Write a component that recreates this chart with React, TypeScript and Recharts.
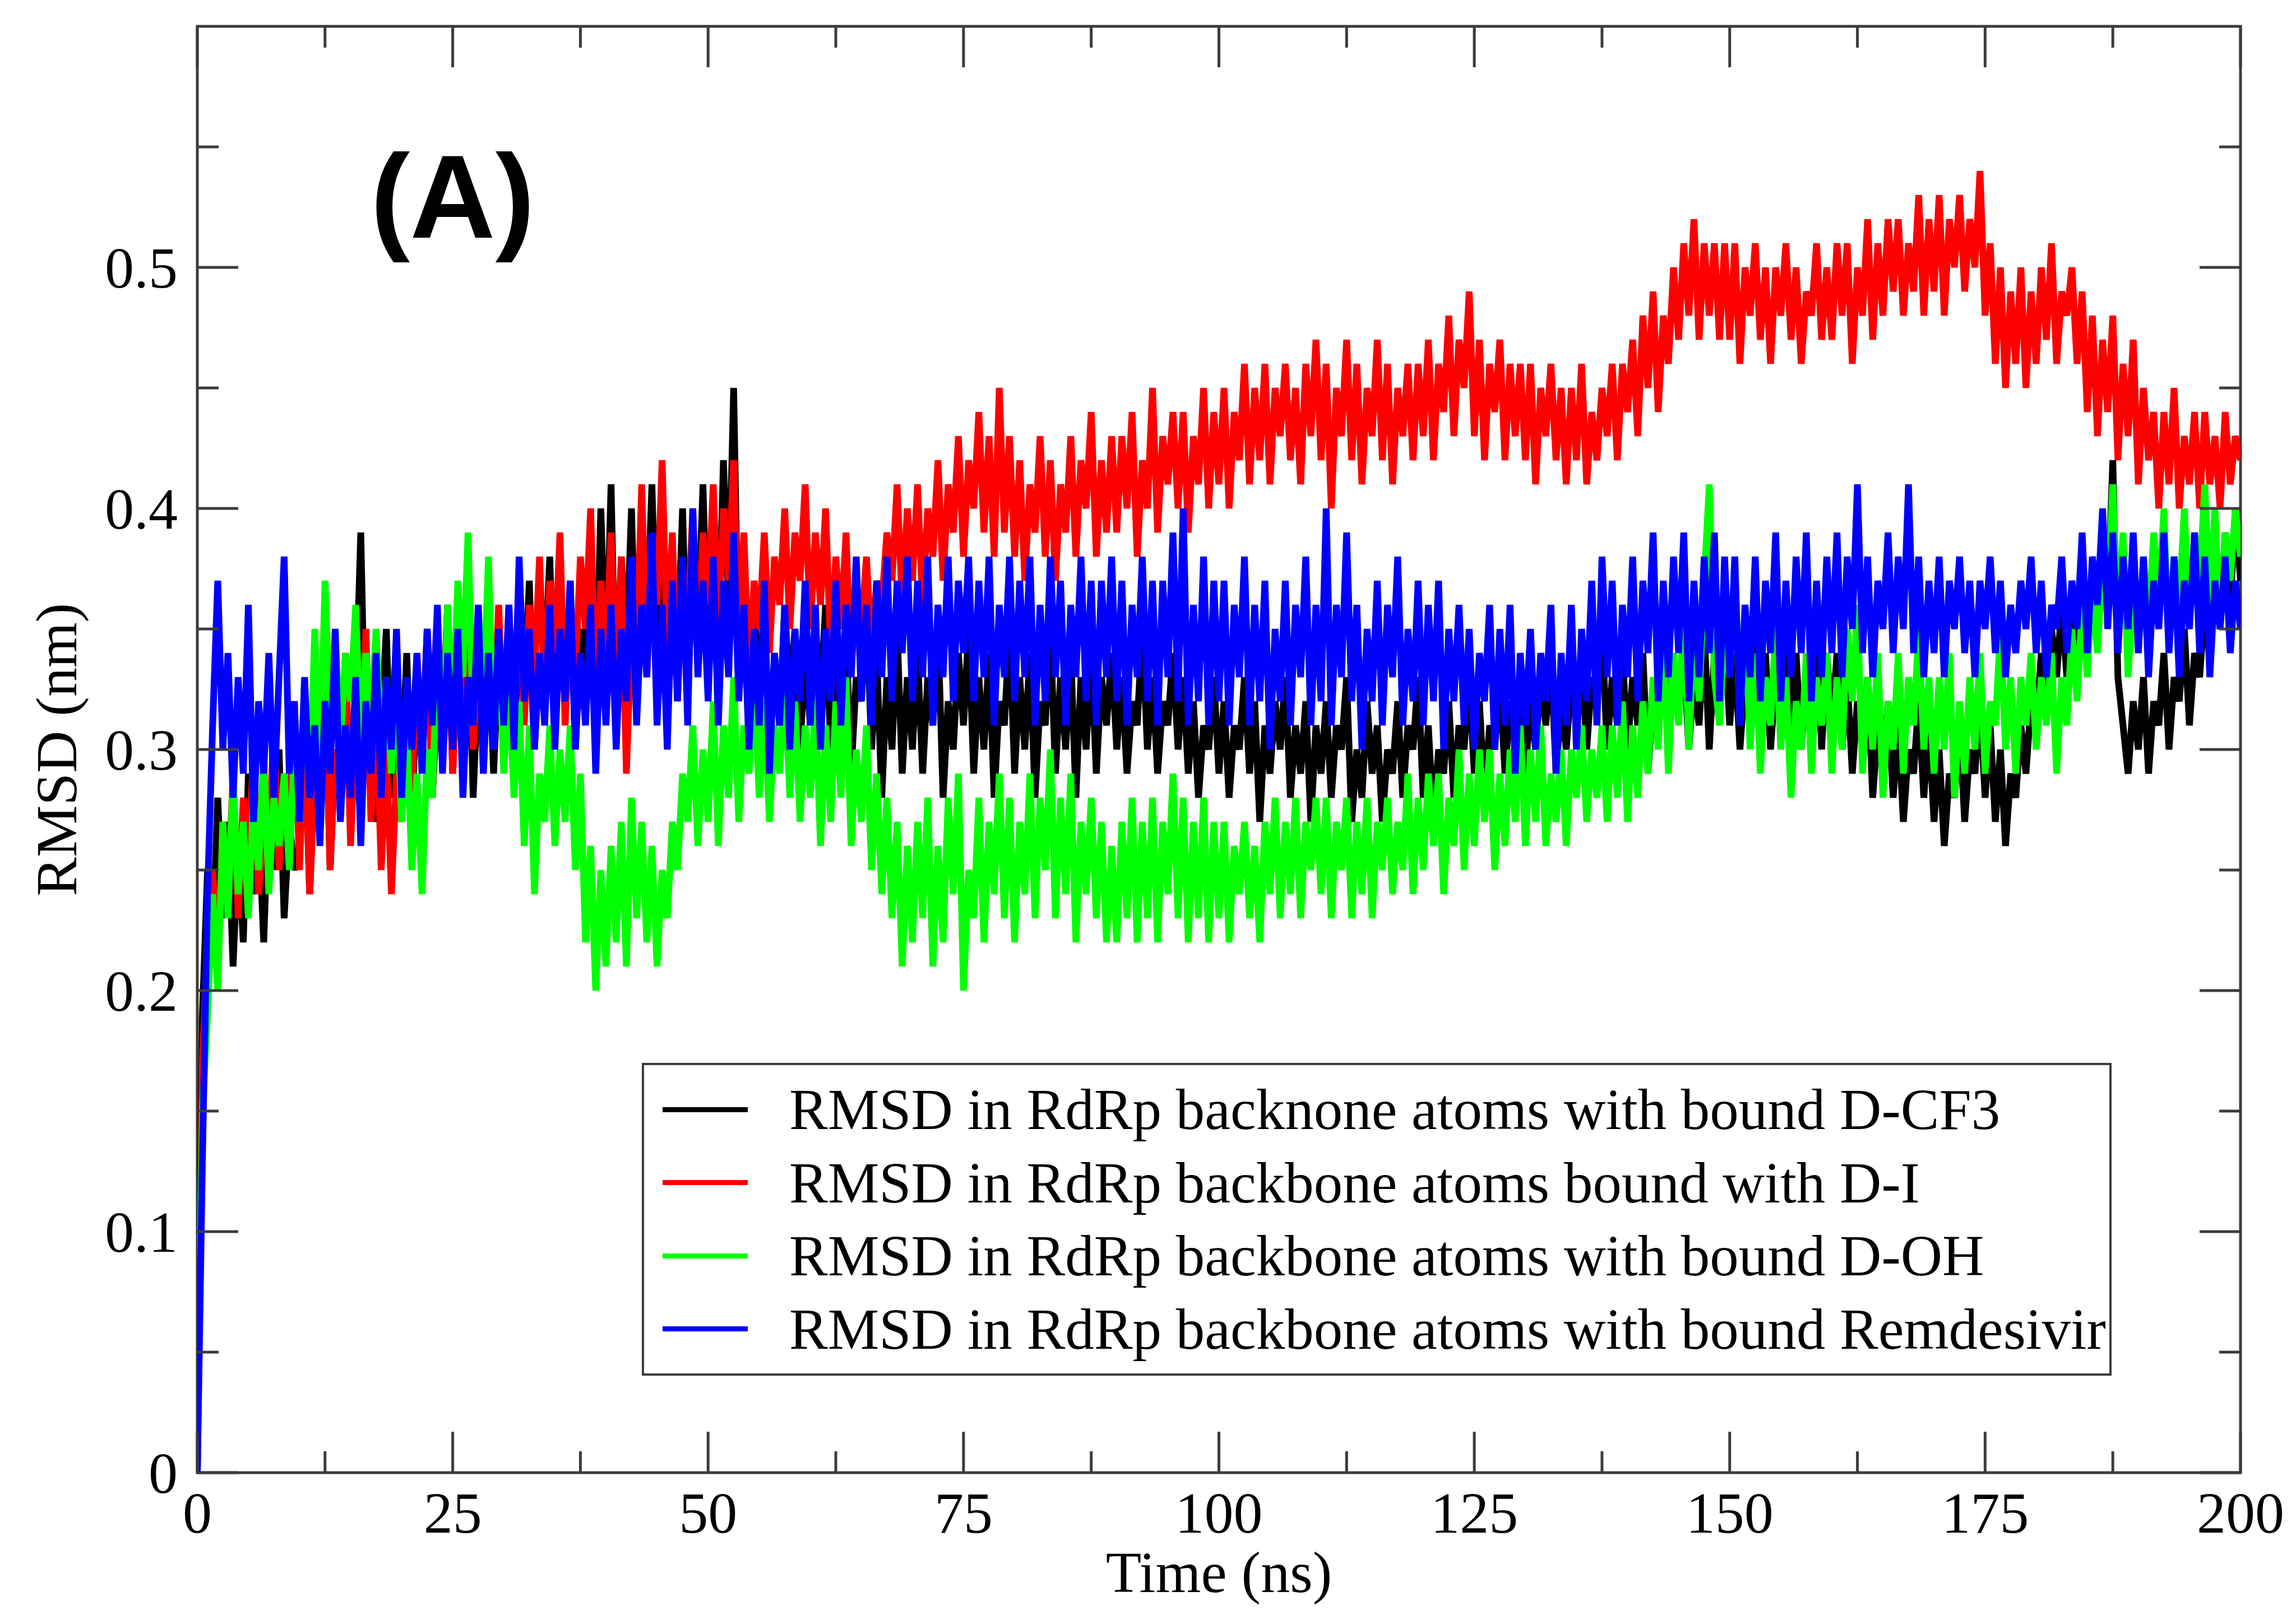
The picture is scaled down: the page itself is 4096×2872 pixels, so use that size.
import React from 'react'
import { LineChart, Line, XAxis, YAxis, Legend, ReferenceArea, Customized } from 'recharts'

// RMSD (nm), one frame every 0.5 ns from 0 to 200 ns
const STEP_NS = 0.5

const cf3 = [
  0, .19, .25, .22, .28, .23, .27, .21, .26, .22, .29, .24, .27, .22, .28, .25, .30, .23, .27, .25,
  .26, .31, .24, .29, .27, .33, .25, .30, .28, .34, .27, .32, .39, .29, .33, .27, .31, .35, .28, .32,
  .29, .34, .27, .33, .30, .35, .28, .32, .31, .36, .29, .34, .30, .37, .28, .33, .31, .35, .29, .34,
  .31, .36, .30, .35, .32, .37, .30, .34, .33, .38, .31, .36, .32, .37, .30, .35, .33, .39, .32, .40,
  .33, .41, .31, .38, .34, .40, .32, .37, .35, .41, .33, .39, .31, .36, .34, .40, .32, .38, .35, .41,
  .33, .39, .34, .42, .36, .45, .33, .38, .31, .36, .32, .35, .30, .34, .31, .36, .32, .35, .30, .34,
  .31, .35, .32, .36, .30, .34, .31, .35, .29, .33, .32, .36, .30, .34, .28, .33, .30, .35, .29, .33,
  .30, .34, .29, .33, .31, .35, .28, .32, .30, .34, .31, .35, .29, .33, .30, .34, .28, .32, .31, .35,
  .29, .33, .30, .34, .28, .32, .31, .35, .29, .33, .30, .34, .28, .33, .30, .34, .29, .33, .31, .34,
  .30, .33, .29, .32, .31, .35, .30, .33, .29, .32, .31, .34, .30, .33, .29, .32, .28, .31, .30, .33,
  .29, .32, .28, .31, .30, .33, .29, .32, .27, .31, .29, .32, .30, .33, .28, .31, .29, .32, .27, .31,
  .29, .32, .28, .31, .30, .33, .27, .30, .28, .32, .29, .31, .27, .30, .29, .32, .28, .31, .30, .33,
  .28, .31, .27, .30, .29, .32, .28, .31, .30, .33, .29, .32, .28, .31, .30, .33, .29, .32, .31, .33,
  .29, .32, .30, .33, .31, .34, .29, .32, .30, .33, .31, .34, .30, .33, .32, .35, .30, .33, .31, .34,
  .30, .33, .31, .34, .29, .32, .31, .35, .30, .33, .32, .34, .30, .33, .31, .35, .30, .34, .32, .35,
  .31, .34, .30, .33, .32, .35, .31, .34, .30, .33, .32, .35, .31, .34, .30, .33, .32, .35, .30, .34,
  .31, .34, .30, .33, .29, .32, .30, .33, .28, .31, .29, .32, .28, .31, .27, .30, .29, .32, .28, .31,
  .27, .30, .26, .29, .28, .31, .27, .30, .29, .32, .28, .31, .27, .30, .26, .29, .28, .31, .29, .32,
  .31, .34, .32, .35, .33, .36, .33, .36, .34, .37, .34, .37, .35, .38, .36, .42, .33, .31, .29, .32,
  .30, .33, .29, .32, .31, .34, .30, .33, .32, .35, .31, .34, .33, .36, .34, .37, .35, .39, .36, .40,
  .37,
]

const dI = [
  0, .17, .22, .25, .21, .27, .24, .29, .23, .28, .25, .30, .24, .27, .26, .31, .25, .29, .27, .32,
  .25, .31, .24, .29, .27, .33, .25, .30, .28, .34, .26, .31, .29, .35, .27, .32, .25, .30, .24, .29,
  .27, .32, .28, .34, .29, .35, .28, .33, .30, .36, .29, .34, .31, .37, .30, .35, .29, .34, .31, .36,
  .30, .35, .32, .37, .31, .36, .33, .38, .32, .37, .34, .39, .31, .36, .33, .38, .35, .40, .32, .37,
  .34, .39, .33, .38, .29, .35, .34, .41, .33, .38, .36, .42, .34, .39, .32, .37, .35, .40, .34, .39,
  .36, .41, .35, .40, .37, .42, .34, .39, .33, .37, .35, .39, .34, .38, .36, .40, .35, .39, .37, .41,
  .35, .39, .36, .40, .34, .38, .35, .39, .33, .37, .35, .38, .34, .37, .36, .39, .37, .41, .36, .40,
  .37, .41, .36, .40, .38, .42, .37, .41, .39, .43, .38, .42, .40, .44, .39, .43, .38, .45, .39, .43,
  .38, .42, .37, .41, .39, .43, .38, .42, .37, .41, .39, .43, .38, .42, .40, .44, .38, .42, .39, .43,
  .39, .43, .40, .44, .38, .42, .40, .45, .39, .43, .41, .44, .40, .44, .39, .43, .41, .45, .40, .44,
  .41, .45, .40, .44, .42, .46, .41, .45, .42, .46, .41, .45, .43, .46, .42, .45, .41, .46, .43, .47,
  .42, .46, .40, .45, .43, .47, .42, .46, .41, .45, .43, .47, .42, .46, .41, .45, .43, .46, .42, .46,
  .43, .47, .42, .46, .44, .48, .43, .47, .45, .49, .43, .47, .42, .46, .44, .47, .42, .46, .43, .46,
  .42, .46, .41, .45, .43, .46, .42, .45, .41, .45, .42, .46, .41, .44, .42, .45, .43, .46, .42, .46,
  .44, .47, .43, .48, .45, .49, .44, .48, .46, .50, .47, .51, .48, .52, .47, .51, .48, .51, .47, .51,
  .47, .51, .46, .50, .48, .51, .47, .50, .46, .50, .48, .51, .47, .50, .46, .49, .48, .51, .47, .50,
  .47, .51, .48, .51, .46, .50, .48, .52, .47, .51, .48, .52, .49, .52, .48, .51, .49, .53, .48, .52,
  .49, .53, .48, .52, .50, .53, .49, .52, .50, .54, .48, .51, .46, .50, .45, .49, .46, .50, .45, .49,
  .46, .50, .47, .51, .46, .49, .48, .50, .46, .49, .44, .48, .43, .47, .44, .48, .42, .46, .43, .47,
  .41, .45, .42, .44, .40, .44, .41, .45, .40, .43, .41, .44, .40, .44, .41, .43, .40, .44, .41, .43,
  .42,
]

const dOH = [
  0, .15, .19, .24, .20, .27, .23, .29, .24, .27, .23, .28, .25, .30, .24, .28, .26, .29, .25, .30,
  .27, .33, .28, .35, .29, .37, .31, .35, .30, .34, .32, .36, .30, .34, .31, .35, .30, .33, .29, .33,
  .27, .31, .25, .29, .24, .30, .28, .34, .30, .36, .31, .37, .33, .39, .31, .36, .32, .38, .30, .35,
  .29, .33, .28, .32, .26, .31, .24, .29, .27, .31, .26, .30, .27, .31, .25, .29, .22, .26, .20, .25,
  .21, .26, .22, .27, .21, .28, .23, .27, .22, .26, .21, .25, .23, .27, .25, .29, .27, .31, .26, .30,
  .27, .32, .26, .31, .28, .33, .27, .31, .29, .33, .28, .32, .27, .31, .29, .33, .28, .32, .27, .31,
  .28, .32, .26, .31, .27, .32, .28, .33, .26, .30, .27, .31, .25, .29, .24, .28, .23, .27, .21, .26,
  .22, .27, .23, .28, .21, .26, .22, .28, .24, .29, .20, .25, .23, .28, .22, .27, .24, .29, .23, .28,
  .22, .27, .24, .29, .23, .28, .25, .30, .23, .28, .24, .29, .22, .27, .24, .28, .23, .27, .22, .26,
  .22, .27, .23, .28, .22, .27, .23, .28, .22, .27, .24, .29, .23, .28, .22, .27, .23, .28, .22, .27,
  .23, .27, .22, .26, .24, .27, .23, .26, .22, .27, .24, .28, .23, .27, .24, .28, .23, .27, .25, .28,
  .24, .28, .23, .27, .25, .28, .23, .27, .24, .28, .23, .27, .25, .28, .24, .27, .25, .29, .24, .28,
  .25, .29, .26, .29, .24, .28, .26, .30, .25, .29, .26, .30, .27, .30, .25, .29, .26, .30, .27, .31,
  .26, .30, .27, .31, .26, .29, .27, .30, .26, .30, .28, .31, .27, .30, .28, .31, .27, .31, .28, .32,
  .27, .31, .28, .32, .29, .33, .30, .35, .29, .34, .31, .36, .30, .35, .32, .37, .41, .33, .31, .35,
  .33, .38, .31, .36, .30, .34, .29, .33, .31, .35, .30, .33, .28, .32, .30, .34, .29, .33, .31, .34,
  .29, .33, .30, .35, .32, .36, .29, .33, .30, .34, .28, .32, .30, .34, .29, .33, .31, .35, .30, .33,
  .29, .33, .30, .34, .28, .32, .29, .33, .30, .34, .29, .32, .31, .35, .30, .33, .29, .33, .31, .34,
  .30, .33, .31, .34, .29, .33, .31, .35, .32, .36, .33, .37, .34, .38, .36, .41, .35, .39, .33, .37,
  .34, .38, .35, .39, .36, .40, .34, .38, .36, .40, .35, .39, .37, .41, .36, .40, .35, .39, .37, .40,
  .38,
]

const remdesivir = [
  0, .13, .24, .31, .37, .30, .34, .28, .33, .29, .36, .27, .32, .29, .34, .28, .33, .38, .29, .32,
  .27, .33, .28, .31, .26, .32, .29, .35, .27, .31, .28, .33, .26, .32, .29, .34, .28, .33, .30, .35,
  .28, .33, .30, .34, .29, .35, .31, .36, .29, .34, .30, .35, .28, .33, .31, .36, .29, .34, .30, .35,
  .31, .36, .30, .38, .32, .35, .30, .34, .31, .36, .30, .35, .32, .37, .30, .34, .31, .36, .29, .35,
  .31, .36, .30, .35, .32, .38, .31, .36, .33, .39, .31, .36, .30, .37, .32, .38, .31, .40, .33, .37,
  .32, .38, .31, .37, .33, .39, .32, .36, .30, .35, .31, .37, .29, .34, .31, .36, .30, .35, .32, .37,
  .31, .36, .30, .35, .32, .37, .31, .36, .33, .38, .32, .36, .31, .37, .33, .38, .32, .37, .34, .38,
  .32, .37, .33, .38, .31, .36, .33, .38, .32, .37, .34, .38, .32, .37, .33, .38, .31, .36, .33, .38,
  .32, .37, .33, .38, .31, .36, .32, .38, .33, .37, .31, .36, .33, .38, .32, .37, .31, .37, .33, .38,
  .32, .37, .31, .36, .33, .38, .32, .37, .31, .37, .33, .39, .32, .40, .31, .36, .32, .38, .31, .37,
  .32, .37, .31, .36, .33, .38, .31, .36, .32, .37, .30, .35, .32, .37, .31, .36, .33, .38, .31, .36,
  .32, .40, .31, .36, .33, .39, .32, .36, .30, .35, .32, .37, .31, .36, .33, .38, .31, .35, .32, .37,
  .31, .36, .32, .37, .30, .35, .32, .36, .31, .35, .30, .34, .32, .36, .30, .35, .31, .36, .29, .34,
  .31, .35, .30, .34, .32, .36, .29, .34, .31, .36, .30, .35, .32, .37, .31, .38, .33, .37, .31, .36,
  .33, .38, .32, .37, .34, .39, .32, .37, .33, .38, .34, .39, .32, .37, .33, .38, .34, .39, .32, .38,
  .33, .38, .31, .36, .33, .38, .32, .37, .34, .39, .32, .37, .33, .38, .34, .39, .32, .37, .33, .38,
  .34, .39, .33, .38, .35, .41, .34, .38, .33, .37, .35, .39, .34, .38, .35, .41, .34, .38, .33, .37,
  .34, .38, .33, .37, .35, .38, .34, .37, .33, .37, .35, .38, .34, .37, .33, .36, .34, .37, .35, .38,
  .34, .37, .33, .36, .35, .38, .34, .37, .35, .39, .34, .38, .36, .40, .35, .39, .34, .38, .35, .39,
  .34, .38, .33, .37, .35, .39, .34, .38, .33, .37, .35, .39, .34, .38, .33, .37, .35, .38, .34, .37,
  .35,
]

const seriesKeys = ['cf3', 'dI', 'dOH', 'remdesivir']
const seriesNames = [
  'RMSD in RdRp backnone atoms with bound D-CF3',
  'RMSD in RdRp backbone atoms bound with D-I',
  'RMSD in RdRp backbone atoms with bound D-OH',
  'RMSD in RdRp backbone atoms with bound Remdesivir',
]
const seriesColors = ['#000000', '#ff0000', '#00ff00', '#0000ff']

const xTicks = [0, 12.5, 25, 37.5, 50, 62.5, 75, 87.5, 100, 112.5, 125, 137.5, 150, 162.5, 175, 187.5, 200]
const yTicks = [0, 0.05, 0.1, 0.15, 0.2, 0.25, 0.3, 0.35, 0.4, 0.45, 0.5, 0.55]

const data = cf3.map((v, i) => ({
  t: i * STEP_NS,
  cf3: v,
  dI: dI[i],
  dOH: dOH[i],
  remdesivir: remdesivir[i],
}))

const W = 4096
const H = 2872
const PLOT_LEFT = 352
const PLOT_RIGHT = 3997
const PLOT_TOP = 47
const PLOT_BOTTOM = 2627
const PLOT_W = PLOT_RIGHT - PLOT_LEFT
const PLOT_H = PLOT_BOTTOM - PLOT_TOP

const FRAME = '#3c3c3c'
const SERIF = '"Liberation Serif", "Times New Roman", serif'
const MAJOR = 73
const MINOR = 38

const XTick = (props: any) => {
  const { x, payload } = props
  const v = payload.value
  const major = v % 25 === 0
  const len = major ? MAJOR : MINOR
  return (
    <g>
      <line x1={x} x2={x} y1={PLOT_BOTTOM} y2={PLOT_BOTTOM - len} stroke={FRAME} strokeWidth={5} />
      <line x1={x} x2={x} y1={PLOT_TOP} y2={PLOT_TOP + len} stroke={FRAME} strokeWidth={5} />
      {major && (
        <text x={x} y={PLOT_BOTTOM + 107} textAnchor="middle" fontFamily={SERIF} fontSize={104} fill="#000">
          {v}
        </text>
      )}
    </g>
  )
}

const YTick = (props: any) => {
  const { y, payload } = props
  const v = payload.value
  const major = Math.round(v * 100) % 10 === 0
  const len = major ? MAJOR : MINOR
  return (
    <g>
      <line x1={PLOT_LEFT} x2={PLOT_LEFT + len} y1={y} y2={y} stroke={FRAME} strokeWidth={5} />
      <line x1={PLOT_RIGHT} x2={PLOT_RIGHT - len} y1={y} y2={y} stroke={FRAME} strokeWidth={5} />
      {major && (
        <text x={PLOT_LEFT - 35} y={y} textAnchor="end" dominantBaseline="central" fontFamily={SERIF} fontSize={104} fill="#000">
          {v}
        </text>
      )}
    </g>
  )
}

const XTitle = () => (
  <text x={PLOT_LEFT + PLOT_W / 2} y={2840} textAnchor="middle" fontFamily={SERIF} fontSize={104} fill="#000">
    Time (ns)
  </text>
)

const YTitle = () => {
  const cy = PLOT_TOP + PLOT_H / 2
  return (
    <text x={136} y={cy} transform={`rotate(-90, 136, ${cy})`} textAnchor="middle" fontFamily={SERIF} fontSize={104} fill="#000">
      RMSD (nm)
    </text>
  )
}

const PanelTag = () => (
  <text x={661} y={424} fontFamily='"Liberation Sans", Arial, sans-serif' fontWeight="bold" fontSize={211} fill="#000">
    (A)
  </text>
)

// keep the legend in the order the sets were drawn, not sorted by name
const LegendBox = ({ payload }: any) => {
  const items = [...(payload || [])].sort(
    (a: any, b: any) => seriesNames.indexOf(a.value) - seriesNames.indexOf(b.value)
  )
  return (
    <div style={{
      width: 2622,
      height: 558,
      boxSizing: 'border-box',
      border: `4px solid ${FRAME}`,
      background: '#fff',
      position: 'relative',
      fontFamily: SERIF,
      fontSize: 103,
      color: '#000'
    }}>
      {items.map((entry: any, i: number) => (
        <div key={i} style={{
          position: 'absolute',
          left: 0,
          top: 14 + i * 130.5,
          height: 130,
          display: 'flex',
          alignItems: 'center',
          whiteSpace: 'nowrap'
        }}>
          <div style={{ marginLeft: 33, width: 152, height: 9, background: entry.color }} />
          <span style={{ marginLeft: 74, lineHeight: '130px' }}>{entry.value}</span>
        </div>
      ))}
    </div>
  )
}

export default function App() {
  return (
    <div style={{ position: 'absolute', left: 0, top: 0, width: W, height: H, background: '#fff' }}>
      <LineChart
        width={W}
        height={H}
        data={data}
        margin={{ top: PLOT_TOP, right: W - PLOT_RIGHT, left: 0, bottom: 0 }}
      >
        <XAxis
          dataKey="t"
          type="number"
          domain={[0, 200]}
          ticks={xTicks}
          interval={0}
          height={H - PLOT_BOTTOM}
          axisLine={false}
          tickLine={false}
          tickSize={0}
          tickMargin={0}
          tick={<XTick />}
          label={<XTitle />}
          allowDataOverflow
        />
        <YAxis
          type="number"
          domain={[0, 0.6]}
          ticks={yTicks}
          interval={0}
          width={PLOT_LEFT}
          axisLine={false}
          tickLine={false}
          tickSize={0}
          tickMargin={0}
          tick={<YTick />}
          label={<YTitle />}
          allowDataOverflow
        />
        <ReferenceArea x1={0} x2={200} y1={0} y2={0.6} fill="none" stroke={FRAME} strokeWidth={5} ifOverflow="visible" />
        {seriesKeys.map((key, i) => (
          <Line
            key={key}
            type="linear"
            dataKey={key}
            name={seriesNames[i]}
            stroke={seriesColors[i]}
            strokeWidth={12}
            strokeLinejoin="miter"
            dot={false}
            activeDot={false}
            isAnimationActive={false}
          />
        ))}
        <Legend
          layout="vertical"
          align="center"
          verticalAlign="middle"
          content={<LegendBox />}
          wrapperStyle={{ left: 1145, top: 1896, width: 2622, height: 558 }}
        />
        <Customized component={PanelTag} />
      </LineChart>
    </div>
  )
}
